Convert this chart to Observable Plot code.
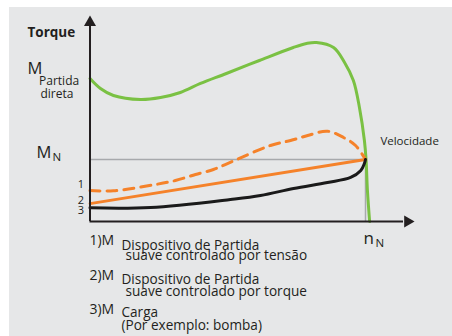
<!DOCTYPE html>
<html><head><meta charset="utf-8">
<script src="https://cdn.jsdelivr.net/npm/d3@7"></script>
<script src="https://cdn.jsdelivr.net/npm/@observablehq/plot@0.6"></script>
<style>
body{margin:0;background:#fff;}
#wrap{position:relative;width:452px;height:336px;overflow:hidden;}
#bg{position:absolute;left:9px;top:7px;right:0;bottom:0;background:#e6e7e8;}
#chart{position:absolute;left:0;top:0;}
</style></head>
<body><div id="wrap"><div id="bg"></div><div id="chart"></div></div>
<script>
// speed (fraction of n_N) and torque (fraction of M_N)
const greenX = [0,0.038,0.085,0.183,0.256,0.328,0.401,0.495,0.615,0.738,0.786,0.822,0.884,0.924,0.956,0.978,0.996,1.002,1.007,1.015];
const greenY = [2.306,2.145,2.032,1.968,2.0,2.081,2.226,2.387,2.597,2.806,2.871,2.887,2.806,2.565,2.274,1.839,1.306,1.0,0.5,0];
const dashX = [0,0.085,0.238,0.310,0.383,0.448,0.499,0.655,0.728,0.790,0.862,0.920,0.964,1.0];
const dashY = [0.5,0.495,0.597,0.661,0.758,0.839,0.935,1.226,1.306,1.387,1.456,1.355,1.226,1.0];
const solidX = [0,1];
const solidY = [0.29,1.0];
const blackX = [0,0.22,0.51,0.619,0.739,0.862,0.946,0.983,0.996,1.0];
const blackY = [0.22,0.226,0.355,0.419,0.532,0.629,0.71,0.823,0.935,1.0];

const labels = [
  {t:"Torque", x:-0.227, y:2.973, s:13.5, w:"bold", a:"start"},
  {t:"M", x:-0.227, y:2.371, s:16.5, w:"normal", a:"start"},
  {t:"Partida", x:-0.185, y:2.194, s:12, w:"normal", a:"start"},
  {t:"direta", x:-0.180, y:1.992, s:12, w:"normal", a:"start"},
  {t:"M", x:-0.194, y:1.032, s:16.5, w:"normal", a:"start"},
  {t:"N", x:-0.136, y:0.968, s:11.5, w:"normal", a:"start"},
  {t:"1", x:-0.022, y:0.537, s:11, w:"normal", a:"end"},
  {t:"2", x:-0.022, y:0.290, s:11, w:"normal", a:"end"},
  {t:"3", x:-0.022, y:0.113, s:11, w:"normal", a:"end"},
  {t:"Velocidade", x:1.054, y:1.226, s:11.5, w:"normal", a:"start"},
  {t:"n", x:0.993, y:-0.355, s:17, w:"normal", a:"start"},
  {t:"N", x:1.036, y:-0.419, s:11.5, w:"normal", a:"start"},
  {t:"1)M", x:-0.002, y:-0.379, s:14, w:"normal", a:"start"},
  {t:"Dispositivo de Partida", x:0.1143, y:-0.452, s:13.6, w:"normal", a:"start"},
  {t:"suave controlado por tensão", x:0.129, y:-0.624, s:13.6, w:"normal", a:"start"},
  {t:"2)M", x:-0.002, y:-0.944, s:14, w:"normal", a:"start"},
  {t:"Dispositivo de Partida", x:0.1143, y:-1.0, s:13.6, w:"normal", a:"start"},
  {t:"suave controlado por torque", x:0.129, y:-1.202, s:13.6, w:"normal", a:"start"},
  {t:"3)M", x:-0.002, y:-1.492, s:14, w:"normal", a:"start"},
  {t:"Carga", x:0.1143, y:-1.548, s:13.6, w:"normal", a:"start"},
  {t:"(Por exemplo: bomba)", x:0.1143, y:-1.75, s:13.6, w:"normal", a:"start"}
];

const pts = (xs, ys) => xs.map((x,i)=>({x, y: ys[i]}));
const font = "'Open Sans', sans-serif";

const textMarks = labels.map(l => Plot.text([l], {x:"x", y:"y", text:"t", textAnchor:l.a, lineAnchor:"bottom",
  fontSize:l.s, fontWeight:l.w, fill:"#231f20", fontFamily:font}));

const plot = Plot.plot({
  width: 452, height: 336,
  style: {background:"transparent", overflow:"visible"},
  x: {domain:[0,1], range:[89.5,365], axis:null},
  y: {domain:[0,1], range:[221,159], axis:null},
  marks: [
    Plot.ruleY([1], {x1:0, x2:1, stroke:"#a7a9ac", strokeWidth:1.5}),
    Plot.ruleX([1], {y1:0, y2:1, stroke:"#a7a9ac", strokeWidth:1.5}),
    Plot.line(pts(greenX, greenY), {x:"x", y:"y", stroke:"#7ac143", strokeWidth:3, curve:"catmull-rom"}),
    Plot.line(pts(dashX, dashY), {x:"x", y:"y", stroke:"#f5822a", strokeWidth:3, strokeDasharray:"10,7", curve:"catmull-rom"}),
    Plot.line(pts(solidX, solidY), {x:"x", y:"y", stroke:"#f5822a", strokeWidth:2.8}),
    Plot.line(pts(blackX, blackY), {x:"x", y:"y", stroke:"#1a1a1a", strokeWidth:3, curve:"catmull-rom"}),
    Plot.ruleX([0], {y1:0, y2:3.18, stroke:"#231f20", strokeWidth:2}),
    Plot.ruleY([0], {x1:0, x2:1.138, stroke:"#231f20", strokeWidth:2}),
    Plot.dot([{x:0, y:3.21}], {x:"x", y:"y", symbol:"triangle", r:4.45, fill:"#231f20", stroke:null}),
    Plot.dot([{x:1.153, y:0}], {x:"x", y:"y", symbol:"triangle", r:4.45, rotate:90, fill:"#231f20", stroke:null}),
    ...textMarks
  ]
});
document.getElementById("chart").appendChild(plot);
</script></body></html>
